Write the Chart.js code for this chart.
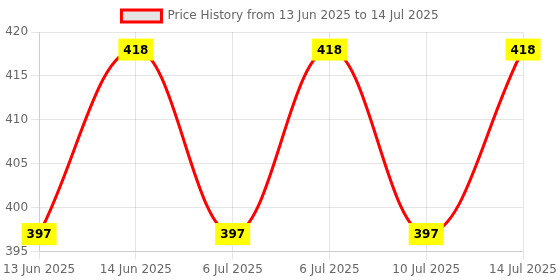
<!DOCTYPE html>
<html>
<head>
<meta charset="utf-8">
<script src="https://cdn.jsdelivr.net/npm/chart.js@4"></script>
<style>
  html, body { margin: 0; padding: 0; background: #fff; }
  #wrap { width: 560px; height: 280px; }
</style>
</head>
<body>
<div id="wrap"><canvas id="priceChart"></canvas></div>
<script>
// ---------- Data ----------
const labels = ["13 Jun 2025", "14 Jun 2025", "6 Jul 2025", "6 Jul 2025", "10 Jul 2025", "14 Jul 2025"];
const prices = [397, 418, 397, 418, 397, 418];
const seriesName = "Price History from 13 Jun 2025 to 14 Jul 2025";
const yTicks = { min: 395, max: 420, step: 5 };

Chart.defaults.font.family = "'DejaVu Sans', sans-serif";
Chart.defaults.font.size = 12;
Chart.defaults.color = "#666";

// ---------- Value labels (yellow boxes) ----------
const valueLabels = {
  id: "valueLabels",
  afterDatasetsDraw(chart) {
    const ctx = chart.ctx;
    const meta = chart.getDatasetMeta(0);
    ctx.save();
    ctx.font = "bold 12px 'DejaVu Sans', sans-serif";
    ctx.textAlign = "center";
    ctx.textBaseline = "middle";
    meta.data.forEach((pt, i) => {
      const text = String(chart.data.datasets[0].data[i]);
      const w = ctx.measureText(text).width + 10;
      const h = 22;
      ctx.fillStyle = "#ffff00";
      ctx.fillRect(pt.x - w / 2, pt.y - h / 2, w, h);
      ctx.fillStyle = "#000";
      ctx.fillText(text, pt.x, pt.y + 1);
    });
    ctx.restore();
  }
};

// ---------- Chart Setup ----------
const ctx = document.getElementById("priceChart").getContext("2d");

new Chart(ctx, {
  type: "line",
  data: {
    labels: labels,
    datasets: [
      {
        label: seriesName,
        data: prices,
        borderColor: "#ff0000",
        backgroundColor: "rgba(0, 0, 0, 0.1)",
        borderWidth: 3,
        tension: 0.4,
        pointRadius: 0,
        fill: false,
      },
    ],
  },
  options: {
    responsive: true,
    maintainAspectRatio: false,
    animation: false,
    plugins: {
      legend: { display: true },
      tooltip: { enabled: false },
    },
    scales: {
      x: {
        ticks: { maxRotation: 0 },
      },
      y: {
        min: yTicks.min,
        max: yTicks.max,
        ticks: { stepSize: yTicks.step },
      },
    },
  },
  plugins: [valueLabels],
});
</script>
</body>
</html>
